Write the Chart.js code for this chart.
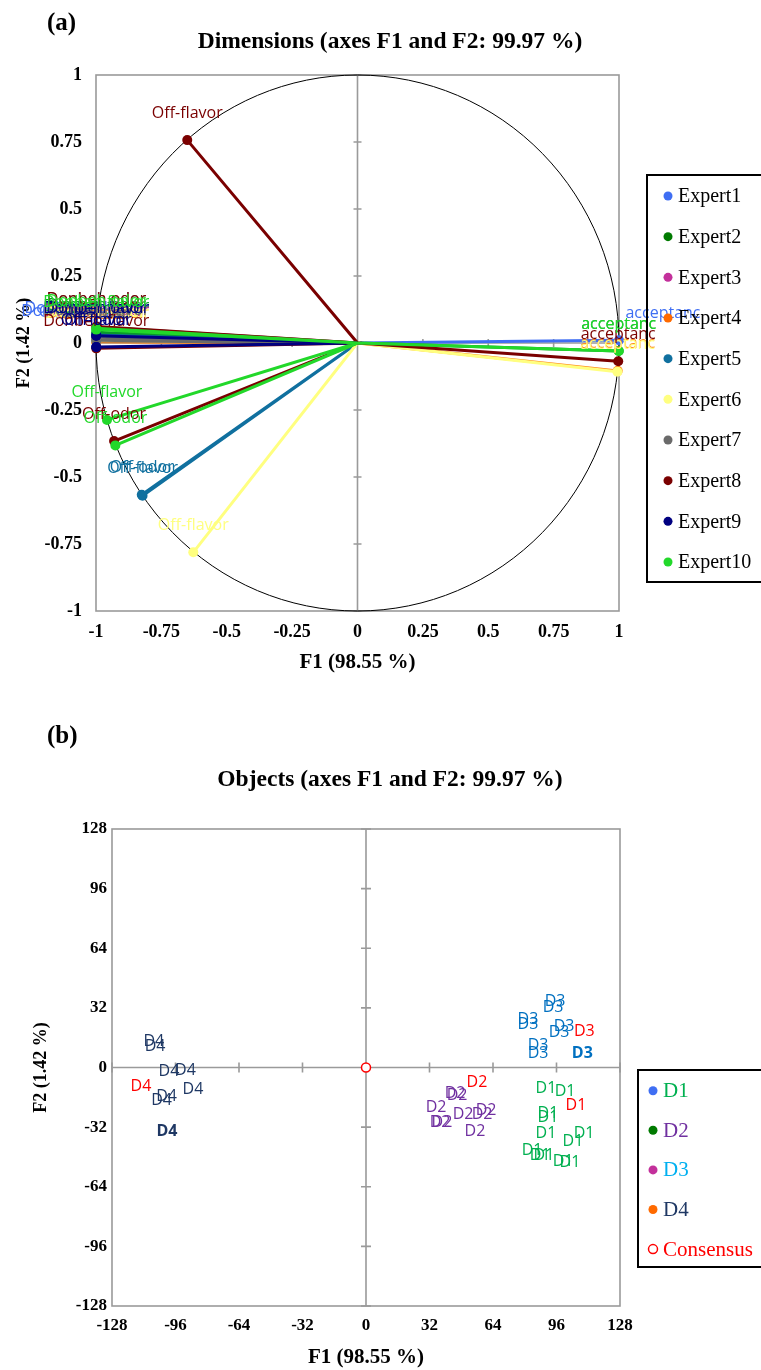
<!DOCTYPE html>
<html>
<head>
<meta charset="utf-8">
<script src="https://cdn.jsdelivr.net/npm/chart.js@4.4.1/dist/chart.umd.min.js"></script>
<style>
  body { margin: 0; width: 761px; height: 1370px; position: relative; background: #fff; overflow: hidden; }
  canvas { position: absolute; left: 0; }
  .tag { position: absolute; left: 47px; font: bold 25px "Liberation Serif", serif; line-height: 29px; }
  .ttl { position: absolute; left: 90px; width: 600px; text-align: center; font: bold 23.5px "Liberation Serif", serif; line-height: 28px; }
</style>
</head>
<body>
<canvas id="dims" width="761" height="680" style="top:0"></canvas>
<canvas id="objs" width="761" height="680" style="top:690px"></canvas>
<div class="tag" style="top:7px">(a)</div>
<div class="ttl" style="top:26px">Dimensions (axes F1 and F2: 99.97 %)</div>
<div class="tag" style="top:720px">(b)</div>
<div class="ttl" style="top:764px">Objects (axes F1 and F2: 99.97 %)</div>
<script>
// ---- chart (a): correlation circle, one vector per expert and variable ----
const expertNames = ["Expert1", "Expert2", "Expert3", "Expert4", "Expert5",
                     "Expert6", "Expert7", "Expert8", "Expert9", "Expert10"];
const varNames = ["acceptanc", "Donbeh odor", "Donbeh flavor", "Off-flavor", "Off-odor"];
// F1 / F2 loadings, one row per expert, columns follow varNames
const f1Load = [
  [1.000, -0.999, -0.999, -0.999, -0.999],
  [0.999, -0.999, -0.999, -0.999, -0.999],
  [null, -0.999, -0.999, -0.999, -0.999],
  [0.995, -0.999, -0.999, -0.999, -0.999],
  [null, -0.999, -0.999, -0.822, -0.825],
  [0.994, -0.999, -0.999, -0.628, null],
  [null, -0.999, -0.999, -0.999, -0.999],
  [0.997, -0.998, -0.999, -0.651, -0.931],
  [null, -0.999, -0.999, -0.999, -0.999],
  [0.999, -0.999, -0.999, -0.958, -0.926]
];
const f2Load = [
  [0.010, 0.028, 0.018, 0.014, 0.010],
  [-0.030, 0.040, 0.034, 0.030, 0.026],
  [null, 0.020, 0.016, 0.012, 0.008],
  [-0.104, 0.010, 0.008, 0.006, 0.004],
  [null, 0.030, 0.026, -0.570, -0.566],
  [-0.107, 0.012, 0.010, -0.781, null],
  [null, 0.060, 0.022, 0.012, 0.008],
  [-0.068, 0.062, -0.020, 0.757, -0.366],
  [null, 0.027, 0.027, -0.015, -0.015],
  [-0.030, 0.055, 0.050, -0.287, -0.382]
];
const dimTicks = { min: -1, max: 1, step: 0.25 };

// ---- chart (b): product configurations ----
const d1F1 = [90.7, 100.3, 91.7, 91.7, 90.7, 109.9, 104.3, 83.7, 89.7, 87.7, 99.3, 102.8];
const d1F2 = [-11.2, -13.0, -24.6, -26.8, -35.3, -35.3, -39.6, -44.5, -47.1, -47.0, -50.3, -50.9];
const d2F1 = [44.9, 45.9, 35.3, 48.9, 58.5, 60.5, 37.3, 38.3, 54.9];
const d2F2 = [-13.9, -15.0, -21.4, -25.2, -25.2, -23.0, -29.5, -29.5, -34.3];
const d3F1 = [95.3, 94.3, 81.6, 81.6, 99.8, 97.3, 86.7, 86.7, 109.0];
const d3F2 = [35.4, 32.0, 25.7, 23.0, 22.0, 18.7, 11.8, 7.5, 7.5];
const d4F1 = [-106.9, -106.3, -99.3, -91.0, -87.2, -100.5, -103.0, -100.3];
const d4F2 = [14.1, 11.4, -2.3, -1.6, -11.8, -15.7, -17.7, -34.4];
const consLabels = ["D1", "D2", "D3", "D4"];
const consF1 = [105.8, 55.9, 110.0, -113.4];
const consF2 = [-20.4, -8.0, 19.3, -10.0];
const objTicks = { min: -128, max: 128, step: 32 };

// ---- styles ----
const serif = '"Liberation Serif", "Times New Roman", serif';
const sans = '"Open Sans", "Noto Sans", sans-serif';
const expertColors = ["#3f6ef3", "#0a9a2a", "#c3309b", "#ff8a1c", "#10709f",
                      "#ffff80", "#6a6a6a", "#7a0000", "#000080", "#22d82a"];
const expertLegendColors = ["#3f6ef3", "#007a00", "#c3309b", "#ff6a00", "#10709f",
                            "#ffff80", "#6a6a6a", "#7a0000", "#000080", "#22d82a"];
const labelNudge = { Expert1: { left: 22, right: 44 } };   // Expert1 labels sit further out
const boldAt = { D3: 8, D4: 7 };

// frame: box, zero axes with small ticks, optional unit circle
const framePlugin = {
  id: "frame",
  beforeDatasetsDraw(chart, args, o) {
    const { ctx, chartArea: a, scales: { x, y } } = chart;
    const x0 = x.getPixelForValue(0), y0 = y.getPixelForValue(0);
    ctx.save();
    ctx.strokeStyle = "#9a9a9a";
    ctx.lineWidth = 1.6;
    ctx.strokeRect(a.left, a.top, a.width, a.height);
    ctx.beginPath();
    ctx.moveTo(a.left, y0); ctx.lineTo(a.right, y0);
    ctx.moveTo(x0, a.top); ctx.lineTo(x0, a.bottom);
    x.ticks.forEach(t => {
      const px = x.getPixelForValue(t.value);
      ctx.moveTo(px, y0 - o.tick); ctx.lineTo(px, y0 + o.tick);
    });
    y.ticks.forEach(t => {
      const py = y.getPixelForValue(t.value);
      ctx.moveTo(x0 - o.tick, py); ctx.lineTo(x0 + o.tick, py);
    });
    ctx.stroke();
    if (o.circle) {
      ctx.beginPath();
      ctx.strokeStyle = "#000";
      ctx.lineWidth = 1;
      ctx.ellipse(x0, y0, x.getPixelForValue(1) - x0, y0 - y.getPixelForValue(1), 0, 0, Math.PI * 2);
      ctx.stroke();
    }
    ctx.restore();
  }
};

// text attached to each point (variable names or product names)
const pointTextPlugin = {
  id: "pointText",
  afterDatasetsDraw(chart, args, o) {
    const ctx = chart.ctx;
    ctx.save();
    ctx.textAlign = "center";
    ctx.textBaseline = "middle";
    chart.data.datasets.forEach((ds, i) => {
      const meta = chart.getDatasetMeta(i);
      meta.data.forEach((pt, j) => {
        const txt = ds.names ? ds.names[j] : ds.tag;
        if (!txt) return;
        const bold = ds.boldIndex === j;
        ctx.font = (bold ? "bold " : "") + o.size + "px " + sans;
        ctx.fillStyle = ds.textColor || ds.borderColor;
        let dx = 0;
        if (ds.nudge) dx = ds.data[j].x > 0 ? ds.nudge.right : -ds.nudge.left;
        ctx.fillText(txt, pt.x + dx, pt.y - o.lift);
      });
    });
    ctx.restore();
  }
};

// framed legend to the right of the plot
const boxLegendPlugin = {
  id: "boxLegend",
  afterDraw(chart, args, o) {
    const ctx = chart.ctx;
    ctx.save();
    ctx.lineWidth = 2;
    ctx.strokeStyle = "#000";
    ctx.strokeRect(o.left, o.top, o.width, o.height);
    ctx.font = o.size + "px " + serif;
    ctx.textBaseline = "middle";
    ctx.textAlign = "left";
    o.items.forEach((it, i) => {
      const yy = o.firstY + i * o.step;
      ctx.beginPath();
      ctx.arc(o.markX, yy, 4.5, 0, Math.PI * 2);
      if (it.hollow) {
        ctx.fillStyle = "#fff"; ctx.fill();
        ctx.lineWidth = 1.5; ctx.strokeStyle = it.marker; ctx.stroke();
      } else {
        ctx.fillStyle = it.marker; ctx.fill();
      }
      ctx.fillStyle = it.text || "#000";
      ctx.fillText(it.label, o.textX, yy + 1);
    });
    ctx.restore();
  }
};

function axis(t, pad, size, titleText, titleSize, titlePad, fit) {
  return {
    type: "linear", min: t.min, max: t.max,
    ticks: { stepSize: t.step, padding: pad, color: "#000", autoSkip: false,
             callback: v => String(+v.toFixed(2)),
             font: { family: serif, size: size, weight: "bold" } },
    grid: { display: false, drawTicks: false },
    border: { display: false },
    title: { display: true, text: titleText, color: "#000", padding: titlePad,
             font: { family: serif, size: titleSize, weight: "bold" } },
    afterFit: fit
  };
}

// build vectors: origin -> loading, for every expert (later experts drawn on top)
const dimSets = expertNames.map((name, k) => {
  const pts = [], names = [], radii = [];
  varNames.forEach((v, j) => {
    if (f1Load[k][j] === null) return;
    pts.push({ x: 0, y: 0 }, { x: f1Load[k][j], y: f2Load[k][j] });
    names.push(null, v);
    radii.push(0, 5);
  });
  return {
    label: name, data: pts, names: names, nudge: labelNudge[name] || null,
    order: expertNames.length - k,
    showLine: true, borderWidth: 3, borderColor: expertColors[k],
    backgroundColor: expertColors[k], pointBackgroundColor: expertColors[k],
    pointBorderColor: expertColors[k], pointBorderWidth: 0, pointRadius: radii, clip: 10
  };
});

new Chart(document.getElementById("dims"), {
  type: "scatter",
  data: { datasets: dimSets },
  plugins: [framePlugin, pointTextPlugin, boxLegendPlugin],
  options: {
    responsive: false, animation: false, events: [],
    layout: { padding: { top: 75, right: 142, left: 0, bottom: 0 } },
    plugins: {
      legend: { display: false }, tooltip: { enabled: false },
      frame: { tick: 4, circle: true },
      pointText: { size: 16, lift: 27 },
      boxLegend: {
        left: 647, top: 175, width: 130, height: 407, markX: 668, textX: 678,
        firstY: 196, step: 40.67, size: 20,
        items: expertNames.map((n, k) => ({ label: n, marker: expertLegendColors[k] }))
      }
    },
    scales: {
      x: axis(dimTicks, 11, 18, "F1 (98.55 %)", 21, { top: 0, bottom: 5 }, s => { s.height = 69; }),
      y: axis(dimTicks, 14, 18, "F2 (1.42 %)", 18, { top: 14, bottom: 0 }, s => { s.width = 96; })
    }
  }
});

// ---- chart (b) ----
function pts(xs, ys) { return xs.map((v, i) => ({ x: v, y: ys[i] })); }
const objSets = [
  { label: "D1", data: pts(d1F1, d1F2), tag: "D1", textColor: "#00b050" },
  { label: "D2", data: pts(d2F1, d2F2), tag: "D2", textColor: "#7030a0" },
  { label: "D3", data: pts(d3F1, d3F2), tag: "D3", textColor: "#0070c0", boldIndex: boldAt.D3 },
  { label: "D4", data: pts(d4F1, d4F2), tag: "D4", textColor: "#1f3864", boldIndex: boldAt.D4 },
  { label: "Consensus", data: pts(consF1, consF2), names: consLabels, textColor: "#ff0000" }
].map(d => Object.assign({ pointRadius: 0, borderColor: d.textColor, clip: 20 }, d));
objSets.push({
  label: "centroid", data: [{ x: 0, y: 0 }], pointRadius: 4.5, pointBorderWidth: 1.5,
  pointBorderColor: "#ff0000", pointBackgroundColor: "#fff", clip: 10
});

new Chart(document.getElementById("objs"), {
  type: "scatter",
  data: { datasets: objSets },
  plugins: [framePlugin, pointTextPlugin, boxLegendPlugin],
  options: {
    responsive: false, animation: false, events: [],
    layout: { padding: { top: 139, right: 141, left: 0, bottom: 0 } },
    plugins: {
      legend: { display: false }, tooltip: { enabled: false },
      frame: { tick: 5, circle: false },
      pointText: { size: 16, lift: 0 },
      boxLegend: {
        left: 638, top: 380, width: 130, height: 197, markX: 653, textX: 663,
        firstY: 400.7, step: 39.6, size: 21,
        items: [
          { label: "D1", marker: "#3f6ef3", text: "#00b050" },
          { label: "D2", marker: "#007a00", text: "#7030a0" },
          { label: "D3", marker: "#c3309b", text: "#00b0f0" },
          { label: "D4", marker: "#ff6a00", text: "#1f3864" },
          { label: "Consensus", marker: "#ff0000", text: "#ff0000", hollow: true }
        ]
      }
    },
    scales: {
      x: axis(objTicks, 9, 17, "F1 (98.55 %)", 21, { top: 0, bottom: 0 }, s => { s.height = 64; }),
      y: axis(objTicks, 5, 17, "F2 (1.42 %)", 18, { top: 31, bottom: 0 }, s => { s.width = 112; })
    }
  }
});
</script>
</body>
</html>
